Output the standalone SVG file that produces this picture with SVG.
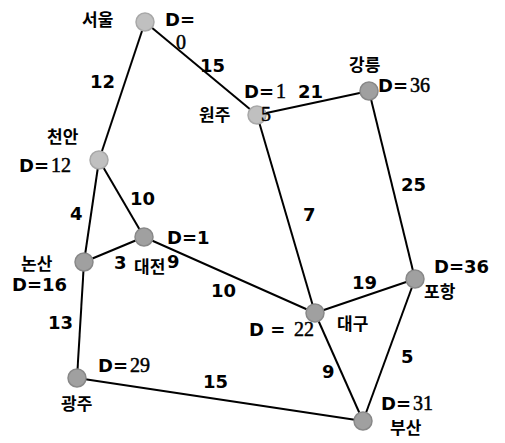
<svg xmlns="http://www.w3.org/2000/svg" width="505" height="443" viewBox="0 0 505 443">
<style>
.e{stroke:#000;stroke-width:2;fill:none}
.lt{fill:#c0c0c0;stroke:#a8a8a8;stroke-width:1.5}
.dk{fill:#a0a0a0;stroke:#888;stroke-width:1.5}
.w{font-family:"DejaVu Sans",sans-serif;font-weight:bold;font-size:18px;fill:#000}
.s{font-family:"Liberation Serif",serif;font-size:20px;fill:#000;stroke:#000;stroke-width:0.5}
.k{font-family:"Noto Sans CJK KR",sans-serif;font-size:17px;font-weight:bold;fill:#000}
</style>
<rect width="505" height="443" fill="#fff"/>
<g id="connectors">
<line class="e" x1="145" y1="22" x2="257" y2="115"/>
<line class="e" x1="145" y1="22" x2="99" y2="160"/>
<line class="e" x1="257" y1="115" x2="369" y2="91"/>
<line class="e" x1="257" y1="115" x2="315" y2="313"/>
<line class="e" x1="369" y1="91" x2="415" y2="279"/>
<line class="e" x1="99" y1="160" x2="144" y2="237"/>
<line class="e" x1="99" y1="160" x2="84" y2="262"/>
<line class="e" x1="84" y1="262" x2="144" y2="237"/>
<line class="e" x1="144" y1="237" x2="315" y2="313"/>
<line class="e" x1="84" y1="262" x2="77" y2="378"/>
<line class="e" x1="315" y1="313" x2="415" y2="279"/>
<line class="e" x1="315" y1="313" x2="363" y2="421"/>
<line class="e" x1="415" y1="279" x2="363" y2="421"/>
<line class="e" x1="77" y1="378" x2="363" y2="421"/>
<text class="w" x="200" y="72">15</text>
<text class="w" x="90" y="88">12</text>
<text class="w" x="298" y="98">21</text>
<text class="w" x="130" y="205">10</text>
<text class="w" x="70" y="220">4</text>
<text class="w" x="303" y="221">7</text>
<text class="w" x="401" y="191">25</text>
<text class="w" x="114" y="269">3</text>
<text class="w" x="211" y="297">10</text>
<text class="w" x="48" y="329">13</text>
<text class="w" x="352" y="289">19</text>
<text class="w" x="401" y="363">5</text>
<text class="w" x="322" y="378">9</text>
<text class="w" x="203" y="388">15</text>
</g>
<g id="seoul">
<circle class="lt" cx="145" cy="22" r="9"/>
<text class="k" x="82" y="26">서울</text>
<text class="w" x="165" y="26">D=</text>
<text class="s" x="176" y="49">0</text>
</g>
<g id="wonju">
<circle class="lt" cx="257" cy="115" r="9"/>
<text class="k" x="199" y="121">원주</text>
<text class="w" x="244" y="98">D=</text><text class="s" x="276" y="98">1</text>
<text class="s" x="261" y="121">5</text>
</g>
<g id="gangneung">
<circle class="dk" cx="369" cy="91" r="9"/>
<text class="k" x="349" y="71">강릉</text>
<text class="w" x="378" y="92">D=</text><text class="s" x="410" y="92">36</text>
</g>
<g id="cheonan">
<circle class="lt" cx="99" cy="160" r="9"/>
<text class="k" x="47" y="143">천안</text>
<text class="w" x="19" y="172">D=</text><text class="s" x="51" y="172">12</text>
</g>
<g id="daejeon">
<circle class="dk" cx="144" cy="237" r="9"/>
<text class="w" x="167" y="244">D=1</text>
<text class="k" x="134" y="273">대전</text>
<text class="w" x="167" y="268">9</text>
</g>
<g id="nonsan">
<circle class="dk" cx="84" cy="262" r="9"/>
<text class="k" x="21" y="270">논산</text>
<text class="w" x="12" y="291">D=16</text>
</g>
<g id="gwangju">
<circle class="dk" cx="77" cy="378" r="9"/>
<text class="w" x="98" y="372">D=</text><text class="s" x="130" y="372">29</text>
<text class="k" x="61" y="410">광주</text>
</g>
<g id="daegu">
<circle class="dk" cx="315" cy="313" r="9"/>
<text class="w" x="249" y="336">D = </text><text class="s" x="294" y="336">22</text>
<text class="k" x="337" y="330">대구</text>
</g>
<g id="pohang">
<circle class="dk" cx="415" cy="279" r="9"/>
<text class="w" x="434" y="273">D=36</text>
<text class="k" x="424" y="298">포항</text>
</g>
<g id="busan">
<circle class="dk" cx="363" cy="421" r="9"/>
<text class="w" x="381" y="410">D=</text><text class="s" x="413" y="410">31</text>
<text class="k" x="390" y="434">부산</text>
</g>
</svg>
